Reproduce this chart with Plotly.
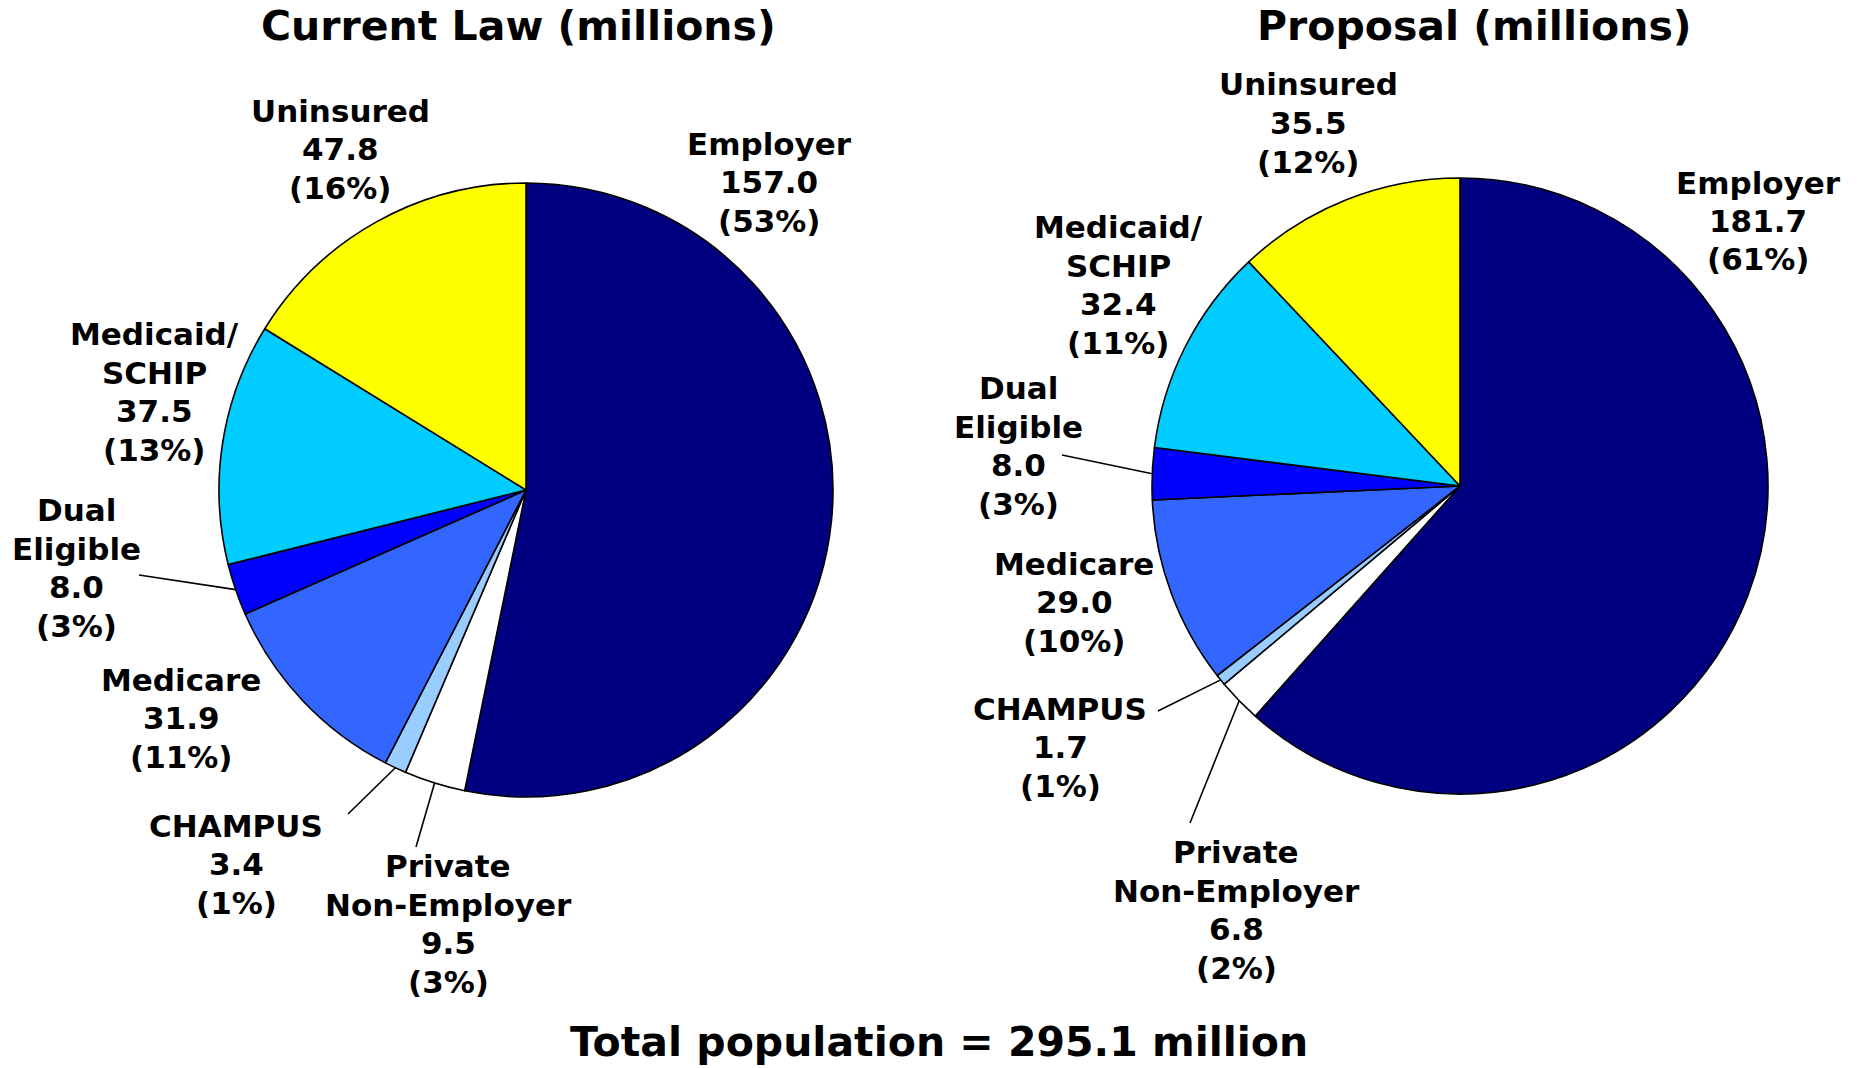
import math
import plotly.graph_objects as go

W, H = 1860, 1068

categories = ["Employer", "Private\nNon-Employer", "CHAMPUS", "Medicare",
              "Dual\nEligible", "Medicaid/\nSCHIP", "Uninsured"]
current_law = [157.0, 9.5, 3.4, 31.9, 8.0, 37.5, 47.8]
current_pct = [53, 3, 1, 11, 3, 13, 16]
proposal = [181.7, 6.8, 1.7, 29.0, 8.0, 32.4, 35.5]
proposal_pct = [61, 2, 1, 10, 3, 11, 12]
colors = ["#000080", "#FFFFFF", "#99CCFF", "#3366FF", "#0000FF", "#00CCFF", "#FFFF00"]
titles = ["Current Law (millions)", "Proposal (millions)"]
footer = "Total population = 295.1 million"

# pie geometry (pixels): center x, center y, radius
pies = [(526, 490, 307), (1460, 486, 308)]

# label block centers (pixels) for each slice, per pie
label_pos = [
    [(769, 182), (448, 924), (236, 864), (181, 718), (76, 568), (154, 392), (340, 149)],
    [(1758, 221), (1236, 910), (1060, 747), (1074, 602), (1018, 446), (1118, 285), (1308, 123)],
]
# leader line start points (pixels) at label side; None = no leader
leader_start = [
    [None, (416, 847), (348, 814), None, (139, 575), None, None],
    [None, (1190, 823), (1158, 711), None, (1062, 455), None, None],
]

FONT = "DejaVu Sans"
LABEL_SIZE = 31
LINE_GAP = 38.5
TITLE_SIZE = 41

def px(x):
    return x / W

def py(y):
    return 1 - y / H

def text_ann(x, y, s, size):
    return dict(x=px(x), y=py(y), xref="paper", yref="paper",
                xanchor="center", yanchor="middle", showarrow=False,
                text=s, font=dict(family=FONT, size=size, color="#000000", weight="bold"))

fig = go.Figure()
annotations = []
shapes = []

for k, (values, pcts) in enumerate([(current_law, current_pct), (proposal, proposal_pct)]):
    cx, cy, r = pies[k]
    fig.add_trace(go.Pie(
        values=values,
        labels=[c.replace("\n", " ") for c in categories],
        sort=False,
        direction="clockwise",
        rotation=0,
        textinfo="none",
        marker=dict(colors=colors, line=dict(color="#000000", width=1.6)),
        domain=dict(x=[px(cx - r), px(cx + r)], y=[py(cy + r), py(cy - r)]),
        showlegend=False,
        hoverinfo="label+value+percent",
    ))
    total = sum(values)
    cum = 0.0
    for i, v in enumerate(values):
        mid = (cum + v / 2) / total * 2 * math.pi
        cum += v
        lines = categories[i].split("\n") + [f"{v:.1f}", f"({pcts[i]}%)"]
        lx, ly = label_pos[k][i]
        n = len(lines)
        for j, s in enumerate(lines):
            annotations.append(text_ann(lx, ly + (j - (n - 1) / 2) * LINE_GAP, s, LABEL_SIZE))
        if leader_start[k][i] is not None:
            ex = cx + r * math.sin(mid)
            ey = cy - r * math.cos(mid)
            sx, sy = leader_start[k][i]
            shapes.append(dict(type="line", xref="paper", yref="paper",
                               x0=px(sx), y0=py(sy), x1=px(ex), y1=py(ey),
                               line=dict(color="#000000", width=1.6)))

for t, xc in zip(titles, [518, 1474]):
    annotations.append(text_ann(xc, 26, t, TITLE_SIZE))
annotations.append(text_ann(939, 1042, footer, TITLE_SIZE))

fig.update_layout(
    width=W, height=H,
    margin=dict(l=0, r=0, t=0, b=0),
    paper_bgcolor="#FFFFFF", plot_bgcolor="#FFFFFF",
    annotations=annotations, shapes=shapes,
)

fig.write_html("out.html",
               config={"displayModeBar": False},
               post_script="document.body.style.margin='0px';document.body.style.overflow='hidden';")
